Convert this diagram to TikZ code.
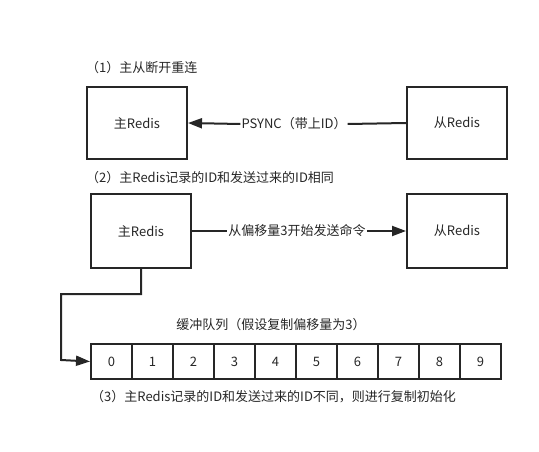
\documentclass[tikz,border=0pt]{standalone}
\usepackage{fontspec}
\setmainfont{Noto Sans CJK SC}
\usetikzlibrary{arrows.meta}
\begin{document}
\begin{tikzpicture}[x=1pt,y=-1pt,
  box/.style={draw=black!85,line width=2pt,minimum width=100pt,minimum height=72pt,inner sep=0pt,font=\fontsize{13}{15}\selectfont,text=black!85},
  cell/.style={draw=black!85,line width=2pt,minimum width=41pt,minimum height=35pt,inner sep=0pt,anchor=north west,font=\fontsize{13}{15}\selectfont,text=black!85},
  lbl/.style={font=\fontsize{13}{15}\selectfont,text=black!85,inner sep=1pt},
  conn/.style={draw=black!85,line width=2pt},
  tip/.style={-{Triangle[length=14pt,width=10pt]}}]
\useasboundingbox (0,0) rectangle (539,452);
% section 1
\node[lbl,anchor=west] (t1) at (85,68) {（1）主从断开重连};
\node[box] (m1) at (137,123) {主Redis};
\node[box] (s1) at (457,123) {从Redis};
\node[lbl,fill=white] (p1) at (294,124) {PSYNC（带上ID）};
\draw[conn] (s1.west) -- (p1.east);
\draw[conn,tip] (p1.west) -- (m1.east);
% section 2
\node[lbl,anchor=west] (t2) at (85,178) {（2）主Redis记录的ID和发送过来的ID相同};
\node[box,minimum height=74pt] (m2) at (141,231) {主Redis};
\node[box,minimum height=74pt] (s2) at (457,231) {从Redis};
\node[lbl,fill=white] (p2) at (297,231) {从偏移量3开始发送命令};
\draw[conn] (m2.east) -- (p2.west);
\draw[conn,tip] (p2.east) -- (s2.west);
% queue
\node[lbl] (qt) at (271,325) {缓冲队列（假设复制偏移量为3）};
\foreach \i in {0,...,9} {
  \node[cell] (c\i) at ({90+41*\i},343) {\i};
}
\coordinate (k1) at (141,294);
\coordinate (k2) at (61,294);
\coordinate (k3) at (61,360);
\draw[conn,tip] (m2.south) -- (k1) -- (k2) -- (k3) -- (c0.west);
\node[lbl,anchor=west] (t3) at (90,397) {（3）主Redis记录的ID和发送过来的ID不同，则进行复制初始化};
\end{tikzpicture}
\end{document}
